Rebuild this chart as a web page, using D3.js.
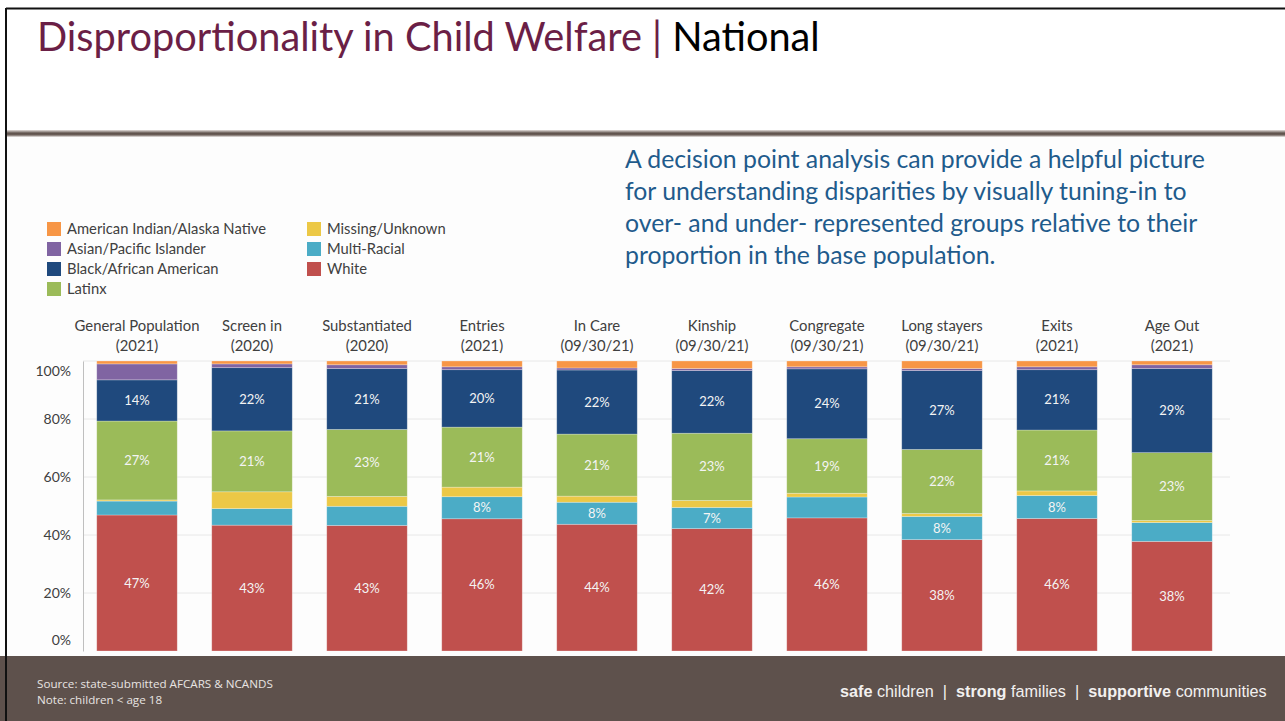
<!DOCTYPE html>
<html>
  <head>
    <meta charset="utf-8">
    <title>Disproportionality in Child Welfare | National</title>
    <script src="https://cdn.jsdelivr.net/npm/d3@7"></script>
    <style>
      body { margin: 0; background: #fff; }
      svg { display: block; font-family: Lato, "Open Sans", sans-serif; }
      .axis path { stroke: #bfbfbf; }
      .axis .tick line { display: none; }
      .axis text { fill: #404040; font-size: 14px; font-family: Lato, sans-serif; }
    </style>
  </head>
  <body>
    <svg id="chart" width="1285" height="721"></svg>
    <script>
      // data
      const stageNames = ["General Population", "Screen in", "Substantiated", "Entries", "In Care",
        "Kinship", "Congregate", "Long stayers", "Exits", "Age Out"];
      const stageDates = ["(2021)", "(2020)", "(2020)", "(2021)", "(09/30/21)",
        "(09/30/21)", "(09/30/21)", "(09/30/21)", "(2021)", "(2021)"];
      const groups = ["American Indian/Alaska Native", "Asian/Pacific Islander", "Black/African American",
        "Latinx", "Missing/Unknown", "Multi-Racial", "White"];
      const aian    = [1.0, 1.0, 1.3, 2.0, 2.4, 2.6, 2.0, 2.6, 2.0, 1.3];
      const api     = [5.5, 1.3, 1.3, 1.0, 0.7, 0.7, 0.7, 0.7, 1.0, 1.3];
      const black   = [14.2, 21.8, 21.0, 19.8, 22.1, 21.6, 24.1, 27.2, 20.8, 29.0];
      const latinx  = [27.2, 21.0, 23.1, 20.7, 21.4, 23.2, 18.8, 22.1, 21.0, 23.4];
      const missing = [0.4, 5.8, 3.4, 3.3, 2.1, 2.4, 1.3, 1.0, 1.6, 0.7];
      const multi   = [4.8, 5.7, 6.6, 7.6, 7.6, 7.3, 7.2, 8.0, 7.9, 6.5];
      const white   = [46.9, 43.4, 43.3, 45.6, 43.7, 42.2, 45.9, 38.4, 45.7, 37.8];
      // which multi-racial segments carry a label in the original
      const multiLabelled = [false, false, false, true, true, true, false, true, true, false];
      const yTicks = [0, 20, 40, 60, 80, 100];

      const colours = {
        "American Indian/Alaska Native": "#f79646",
        "Asian/Pacific Islander": "#8064a2",
        "Black/African American": "#1f497d",
        "Latinx": "#9bbb59",
        "Missing/Unknown": "#ecc846",
        "Multi-Racial": "#4bacc6",
        "White": "#c0504d"
      };

      // table for d3.stack
      const rows = stageNames.map(function(name, i) {
        return {
          stage: name,
          "American Indian/Alaska Native": aian[i],
          "Asian/Pacific Islander": api[i],
          "Black/African American": black[i],
          "Latinx": latinx[i],
          "Missing/Unknown": missing[i],
          "Multi-Racial": multi[i],
          "White": white[i],
          multiLabel: multiLabelled[i]
        };
      });
      const stackKeys = groups.slice().reverse(); // White at the bottom
      const stackData = d3.stack().keys(stackKeys)(rows);

      const svg = d3.select("#chart");

      // slide frame
      svg.append("rect").attr("x", 0).attr("y", 137).attr("width", 1285).attr("height", 520)
        .attr("fill", "#fdfdfd");
      const grad = svg.append("defs").append("linearGradient")
        .attr("id", "rule").attr("x1", 0).attr("x2", 0).attr("y1", 0).attr("y2", 1);
      grad.append("stop").attr("offset", "0%").attr("stop-color", "#e4dedb");
      grad.append("stop").attr("offset", "45%").attr("stop-color", "#5e514b");
      grad.append("stop").attr("offset", "70%").attr("stop-color", "#6d605a");
      grad.append("stop").attr("offset", "100%").attr("stop-color", "#ede9e7");
      svg.append("rect").attr("x", 7).attr("y", 130).attr("width", 1278).attr("height", 7)
        .attr("fill", "url(#rule)");
      svg.append("rect").attr("x", 0).attr("y", 656).attr("width", 1285).attr("height", 65)
        .attr("fill", "#5e514c");
      svg.append("line").attr("x1", 6).attr("x2", 1285).attr("y1", 8.5).attr("y2", 8.5)
        .attr("stroke", "#111").attr("stroke-width", 2);
      svg.append("line").attr("x1", 6).attr("x2", 6).attr("y1", 8).attr("y2", 721)
        .attr("stroke", "#111").attr("stroke-width", 2);

      // title
      const title = svg.append("text").attr("x", 37).attr("y", 51)
        .style("font-size", "38px").style("font-family", "Lato, sans-serif");
      title.append("tspan").attr("fill", "#6b1f46").text("Disproportionality in Child Welfare | ");
      title.append("tspan").attr("fill", "#000").text("National");
      fitWidth(title, 783);

      // blurb
      const blurb = ["A decision point analysis can provide a helpful picture",
        "for understanding disparities by visually tuning-in to",
        "over- and under- represented groups relative to their",
        "proportion in the base population."];
      const blurbText = svg.append("g").selectAll("text")
        .data(blurb)
        .enter().append("text")
          .attr("x", 625)
          .attr("y", function(d, i) { return 168 + i * 32; })
          .attr("fill", "#1f5b8c")
          .style("font-size", "22px")
          .text(function(d) { return d; });
      fitWidth(d3.select(blurbText.nodes()[0]), 580, blurbText);

      // legend
      const legend = svg.append("g").selectAll(".legendItem")
        .data(groups)
        .enter().append("g")
          .attr("transform", function(d, i) {
            const col = i < 4 ? 0 : 1;
            const row = i < 4 ? i : i - 4;
            return "translate(" + (47 + col * 260) + "," + (222 + row * 20) + ")";
          });
      legend.append("rect").attr("width", 14).attr("height", 14)
        .attr("fill", function(d) { return colours[d]; });
      const legendText = legend.append("text").attr("x", 20).attr("y", 12)
        .attr("fill", "#404040").style("font-size", "14px")
        .text(function(d) { return d; });
      fitWidth(d3.select(legendText.nodes()[0]), 199, legendText);

      // chart
      const x = d3.scaleBand()
        .domain(stageNames)
        .range([79.5, 1229.5])
        .paddingInner(0.3)
        .paddingOuter(0.15);
      const y = d3.scaleLinear()
        .domain([0, 100])
        .range([651, 361]);

      svg.append("g").selectAll("line")
        .data(yTicks.slice(1))
        .enter().append("line")
          .attr("x1", 83).attr("x2", 1230)
          .attr("y1", function(d) { return y(d); })
          .attr("y2", function(d) { return y(d); })
          .attr("stroke", "#e8e8e8");

      const yAxis = d3.axisLeft(y)
        .tickValues(yTicks)
        .tickFormat(function(d) { return d + "%"; })
        .tickSizeOuter(0)
        .tickPadding(6);
      const yAxisGroup = svg.append("g").attr("class", "axis")
        .attr("transform", "translate(83,0)")
        .call(yAxis);
      yAxisGroup.selectAll(".tick text")
        .attr("dy", function(d) { return d === 100 ? "1.05em" : d === 0 ? "-0.45em" : "0.32em"; });

      // category labels
      const catLabels = svg.append("g").selectAll("text")
        .data(stageNames)
        .enter().append("text")
          .attr("x", function(d) { return x(d) + x.bandwidth() / 2; })
          .attr("y", 331)
          .attr("text-anchor", "middle")
          .attr("fill", "#404040")
          .style("font-size", "13.5px");
      catLabels.append("tspan").text(function(d) { return d; });
      catLabels.append("tspan")
        .attr("x", function(d) { return x(d) + x.bandwidth() / 2; })
        .attr("dy", 20)
        .text(function(d, i) { return stageDates[i]; });
      fitWidth(d3.select(catLabels.select("tspan").node()), 125, catLabels);

      // stacked bars
      const layers = svg.append("g").selectAll("g")
        .data(stackData)
        .enter().append("g")
          .attr("fill", function(d) { return colours[d.key]; });
      layers.selectAll("rect")
        .data(function(d) { return d; })
        .enter().append("rect")
          .attr("x", function(d) { return x(d.data.stage); })
          .attr("width", x.bandwidth())
          .attr("y", function(d) { return y(d[1]); })
          .attr("height", function(d) { return y(d[0]) - y(d[1]); })
          .attr("stroke", "rgba(255,255,255,0.35)")
          .attr("stroke-width", 0.75);

      // value labels
      const labelKeys = ["White", "Multi-Racial", "Latinx", "Black/African American"];
      const labelLayers = svg.append("g").selectAll("g")
        .data(stackData.filter(function(d) { return labelKeys.indexOf(d.key) >= 0; }))
        .enter().append("g");
      labelLayers.selectAll("text")
        .data(function(d) {
          return d.filter(function(p) { return d.key !== "Multi-Racial" || p.data.multiLabel; });
        })
        .enter().append("text")
          .attr("x", function(d) { return x(d.data.stage) + x.bandwidth() / 2; })
          .attr("y", function(d) { return y((d[0] + d[1]) / 2); })
          .attr("dy", "0.35em")
          .attr("text-anchor", "middle")
          .attr("fill", "#f4f4f4")
          .style("font-size", "13px")
          .text(function(d) { return d3.format(".0f")(d[1] - d[0]) + "%"; });

      // footer
      const foot = svg.append("g").attr("fill", "#e8e4e2")
        .style("font-family", "'Liberation Sans Narrow', 'Open Sans', sans-serif")
        .style("font-size", "11px");
      const src = foot.append("text").attr("x", 37).attr("y", 688)
        .text("Source: state-submitted AFCARS & NCANDS");
      foot.append("text").attr("x", 37).attr("y", 704).text("Note: children < age 18");
      fitWidth(src, 236, foot.selectAll("text"));

      const tag = svg.append("text").attr("x", 840).attr("y", 697)
        .attr("fill", "#f2f0ef")
        .style("font-family", "'Liberation Sans Narrow', Arial, sans-serif")
        .style("font-size", "16px")
        .attr("xml:space", "preserve");
      [["safe", true], [" children  ", false], ["|", false], ["  strong", true], [" families  ", false],
        ["|", false], ["  supportive", true], [" communities", false]].forEach(function(p) {
        tag.append("tspan").style("font-weight", p[1] ? "bold" : "normal").text(p[0]);
      });
      fitWidth(tag, 427);

      // scale font size so a reference text reaches a target width
      function fitWidth(ref, target, all) {
        const node = ref.node();
        const w = node.getComputedTextLength();
        const size = parseFloat(ref.style("font-size"));
        const newSize = size * target / w;
        (all || ref).style("font-size", newSize + "px");
      }
    </script>
  </body>
</html>
